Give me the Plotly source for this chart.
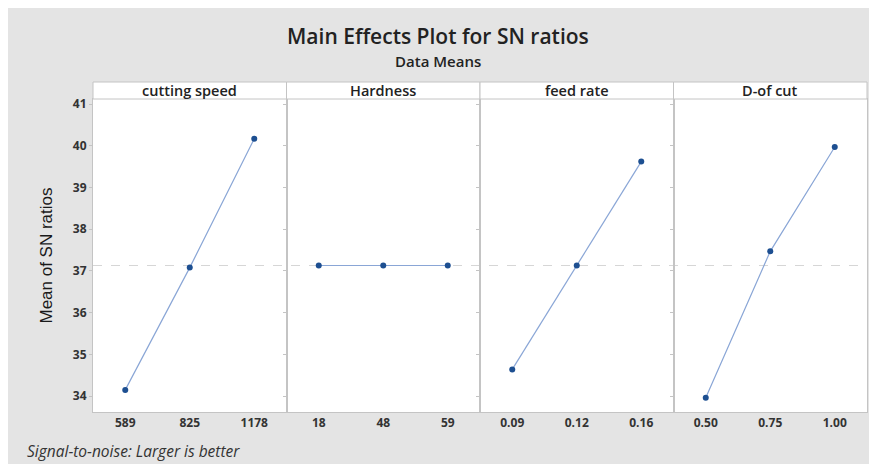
import plotly.graph_objects as go
from plotly.subplots import make_subplots

factors = ["cutting speed", "Hardness", "feed rate", "D-of cut"]
levels = [
    ["589", "825", "1178"],
    ["18", "48", "59"],
    ["0.09", "0.12", "0.16"],
    ["0.50", "0.75", "1.00"],
]
sn_means = [
    [34.15, 37.08, 40.17],
    [37.13, 37.13, 37.13],
    [34.64, 37.13, 39.62],
    [33.96, 37.47, 39.97],
]
overall_mean = 37.13
y_ticks = [34, 35, 36, 37, 38, 39, 40, 41]

# page body has an 8px margin, so the figure is drawn at (8, 8)
W, H = 869, 456
ml, mr, mt, mb = 85, 10, 74, 52
header_px = 17
plot_w = W - ml - mr
plot_h = H - mt - mb
ytop = (plot_h - header_px) / plot_h

fig = make_subplots(rows=1, cols=4, shared_yaxes=True, horizontal_spacing=0)

line_col = "#8aa6d6"
marker_col = "#1d4f91"
grid_col = "#c4c4c4"
FONT = "Open Sans, Liberation Sans, sans-serif"
tick_font = dict(family=FONT, size=12, color="#333333", weight=700)

for i, (name, lv, vals) in enumerate(zip(factors, levels, sn_means)):
    fig.add_trace(
        go.Scatter(
            x=[1, 2, 3], y=vals, mode="lines+markers",
            line=dict(color=line_col, width=1.2),
            marker=dict(color=marker_col, size=6),
            showlegend=False, name=name,
        ),
        row=1, col=i + 1,
    )
    fig.update_xaxes(
        range=[0.5, 3.5], tickmode="array", tickvals=[1, 2, 3], ticktext=lv,
        showgrid=False, zeroline=False, showline=True, mirror=True,
        linecolor=grid_col, linewidth=1, ticks="", tickfont=tick_font,
        row=1, col=i + 1,
    )

for i in range(4):
    ax = "yaxis" if i == 0 else f"yaxis{i+1}"
    fig.layout[ax].domain = [0, ytop]

fig.update_yaxes(
    range=[33.62, 41.12], tickvals=y_ticks, showgrid=False, zeroline=False,
    showline=True, mirror=True, linecolor=grid_col, linewidth=1,
    ticks="outside", ticklen=3, tickcolor=grid_col, tickfont=tick_font,
)
fig.update_yaxes(
    title=dict(text="Mean of SN ratios", standoff=15,
               font=dict(family="Liberation Sans Narrow, Liberation Sans, sans-serif", size=17, color="#1a1a1a")),
    row=1, col=1,
)

# overall mean reference line
fig.add_shape(type="line", xref="paper", yref="y", x0=0, x1=1, y0=overall_mean, y1=overall_mean,
              line=dict(color="#d6d6d6", width=1, dash="dash"), layer="below")

# header strips
for i, name in enumerate(factors):
    xa = fig.layout["xaxis" if i == 0 else f"xaxis{i+1}"]
    x0, x1 = xa.domain
    fig.add_shape(type="rect", xref="paper", yref="paper", x0=x0, x1=x1, y0=ytop, y1=1,
                  fillcolor="white", line=dict(color=grid_col, width=1))
    fig.add_annotation(x=(x0 + x1) / 2, y=(ytop + 1) / 2, xref="paper", yref="paper",
                       xanchor="center", yanchor="middle", text=name, showarrow=False,
                       font=dict(family=FONT, size=14.5, color="#222222", weight=600))

def px_x(x):
    return (x - ml) / plot_w

def px_y(y):
    return 1 - (y - mt) / plot_h

fig.add_annotation(x=px_x(430), y=px_y(28), xref="paper", yref="paper",
                   xanchor="center", yanchor="middle",
                   text="Main Effects Plot for SN ratios", showarrow=False,
                   font=dict(family=FONT, size=21, color="#222222", weight=600))
fig.add_annotation(x=px_x(430), y=px_y(53), xref="paper", yref="paper",
                   xanchor="center", yanchor="middle",
                   text="Data Means", showarrow=False,
                   font=dict(family=FONT, size=15, color="#222222", weight=600))
fig.add_annotation(x=px_x(17), y=px_y(443), xref="paper", yref="paper",
                   xanchor="left", yanchor="middle", showarrow=False,
                   text="Signal-to-noise: Larger is better",
                   font=dict(family=FONT, size=15.5, color="#333333", style="italic"))

fig.update_layout(
    width=W, height=H,
    margin=dict(l=ml, r=mr, t=mt, b=mb),
    paper_bgcolor="#e4e4e4", plot_bgcolor="white",
)

fig.write_html("out.html")
